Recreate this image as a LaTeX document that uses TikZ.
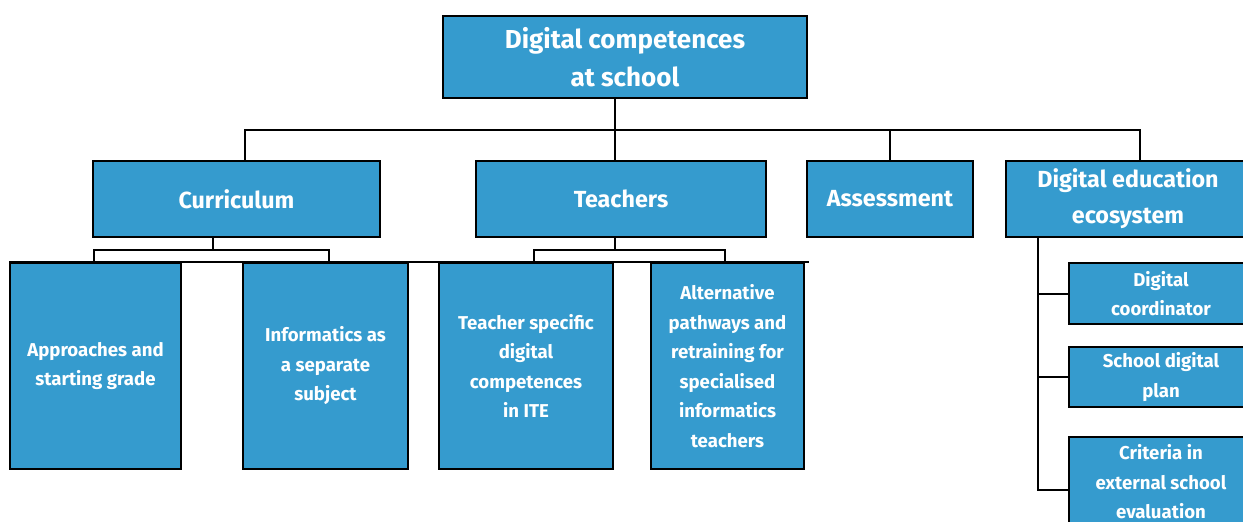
\documentclass[tikz,border=0pt]{standalone}
\usepackage{fontspec}
\setmainfont{Fira Sans}
\definecolor{boxblue}{RGB}{53,155,206}
\begin{document}
\begin{tikzpicture}[x=1pt,y=-1pt,
  box/.style={draw=black, line width=2pt, fill=boxblue, text=white, font=\bfseries, align=center, inner sep=0pt},
  big/.style={box, font=\fontsize{26}{38.5}\bfseries\selectfont},
  mid/.style={box, font=\fontsize{23.3}{36}\bfseries\selectfont},
  small/.style={box, font=\fontsize{18.6}{29.5}\bfseries\selectfont},
  conn/.style={line width=2pt, black}]
\useasboundingbox (0,0) rectangle (1243,522);
\clip (0,0) rectangle (1243,522);
\fill[white] (0,0) rectangle (1243,522);

\node[big, minimum width=364, minimum height=82] (root) at (625,57) {Digital competences\\at school};
\node[mid, minimum width=287, minimum height=76] (cur) at (236.5,199) {Curriculum};
\node[mid, minimum width=290, minimum height=76] (tea) at (621,199) {Teachers};
\node[mid, minimum width=166, minimum height=76] (ass) at (890,199) {Assessment};
\node[mid, minimum width=244, minimum height=76] (dee) at (1128,199) {Digital education\\ecosystem};

\node[small, minimum width=171, minimum height=206] (app) at (95.5,366) {Approaches and\\starting grade};
\node[small, minimum width=165, minimum height=206] (inf) at (325.5,366) {Informatics as\\a separate\\subject};
\node[small, minimum width=174, minimum height=206] (tsd) at (526,366) {Teacher specific\\digital\\competences\\in ITE};
\node[small, minimum width=153, minimum height=206] (alt) at (727.5,366) {Alternative\\pathways and\\retraining for\\specialised\\informatics\\teachers};

\node[small, minimum width=184, minimum height=61] (dc) at (1161,293.5) {Digital\\coordinator};
\node[small, minimum width=184, minimum height=60] (sdp) at (1161,377) {School digital\\plan};
\node[small, minimum width=184, minimum height=90] (crit) at (1161,482) {Criteria in\\external school\\evaluation};

\coordinate (bus) at (0,130);
\coordinate (cbus) at (0,250);
% top level
\draw[conn] ([xshift=-10pt]root.south) -- ([xshift=-10pt]root.south |- bus);
\draw[conn] ([xshift=8.5pt]cur.north) |- ([xshift=12pt]dee.north |- bus) -- ([xshift=12pt]dee.north);
\draw[conn] ([xshift=-6pt]tea.north) -- ([xshift=-6pt]tea.north |- bus);
\draw[conn] (ass.north) -- (ass.north |- bus);
% curriculum children
\draw[conn] ([xshift=-23.5pt]cur.south) -- ([xshift=-23.5pt]cur.south |- cbus);
\draw[conn] ([xshift=-1.5pt]app.north) |- ([xshift=3.5pt]inf.north |- cbus) -- ([xshift=3.5pt]inf.north);
% teachers children
\draw[conn] ([xshift=-6pt]tea.south) -- ([xshift=-6pt]tea.south |- cbus);
\draw[conn] ([xshift=8pt]tsd.north) |- ([xshift=-2.5pt]alt.north |- cbus) -- ([xshift=-2.5pt]alt.north);
% line along top of lower boxes
\draw[conn] (app.north west) -- ([xshift=4pt]alt.north east);
% ecosystem children
\draw[conn] ([xshift=-90pt]dee.south) |- ([yshift=-8pt]crit.west);
\draw[conn] ([xshift=-90pt]dee.south |- dc.west) -- (dc.west);
\draw[conn] ([xshift=-90pt]dee.south |- sdp.west) -- (sdp.west);
\end{tikzpicture}
\end{document}
